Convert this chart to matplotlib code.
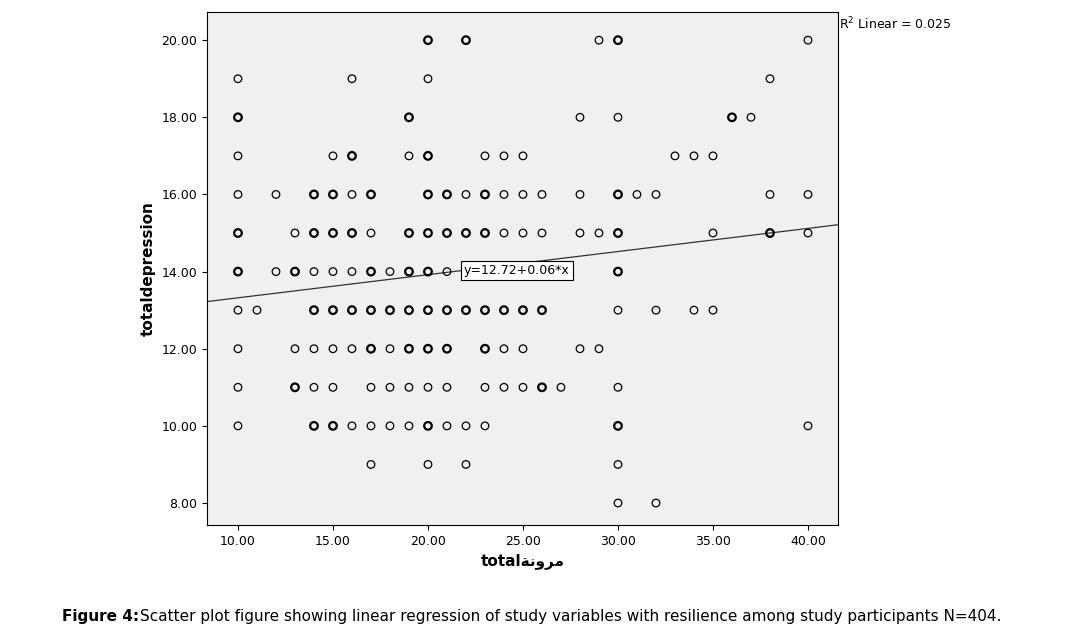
import matplotlib
matplotlib.use("Agg")
import matplotlib.pyplot as plt
import numpy as np

# resilience values per depression score; bold = several overlapping cases
rows = {
    20: [20, 22, 29, 30, 40],
    19: [10, 16, 20, 38],
    18: [10, 19, 28, 30, 36, 37],
    17: [10, 15, 16, 19, 20, 23, 24, 25, 33, 34, 35],
    16: [10, 12, 14, 15, 16, 17, 20, 21, 22, 23, 24, 25, 26, 28, 30, 31, 32, 38, 40],
    15: [10, 13, 14, 15, 16, 17, 19, 20, 21, 22, 23, 24, 25, 26, 28, 29, 30, 35, 38, 40],
    14: [10, 12, 13, 14, 15, 16, 17, 18, 19, 20, 21, 30],
    13: [10, 11, 14, 15, 16, 17, 18, 19, 20, 21, 22, 23, 24, 25, 26, 30, 32, 34, 35],
    12: [10, 13, 14, 15, 16, 17, 18, 19, 20, 21, 23, 24, 25, 28, 29],
    11: [10, 13, 14, 15, 17, 18, 19, 20, 21, 23, 24, 25, 26, 27, 30],
    10: [10, 14, 15, 16, 17, 18, 19, 20, 21, 22, 23, 30, 40],
    9: [17, 20, 22, 30],
    8: [30, 32],
}
bold = {
    20: [20, 22, 30],
    18: [10, 19, 36],
    17: [16, 20],
    16: [14, 15, 17, 20, 21, 23, 30],
    15: [10, 14, 15, 16, 19, 20, 21, 22, 23, 30, 38],
    14: [10, 13, 17, 19, 20, 30],
    13: [14, 15, 16, 17, 18, 19, 20, 21, 22, 23, 24, 25, 26],
    12: [17, 19, 20, 21, 23],
    11: [13, 26],
    10: [14, 15, 20, 30],
}
intercept, slope = 12.72, 0.06

fig = plt.figure(figsize=(10.7, 6.36), dpi=100)
ax = fig.add_axes([207/1070, 1-525/636, (838-207)/1070, (525-12)/636])
ax.set_facecolor("#f0f0f0")

for y, xs in rows.items():
    for x in xs:
        lw = 1.6 if x in bold.get(y, []) else 0.9
        ax.scatter(x, y, s=30, facecolors="none", edgecolors="black", linewidths=lw, zorder=3)

xlim = (8.37, 41.58)
xl = np.array(xlim)
ax.plot(xl, intercept + slope * xl, color="#333333", lw=0.9, zorder=2)
ax.text(21.9, intercept + slope * 21.9, "y=12.72+0.06*x", fontsize=9, ha="left", va="center",
        bbox=dict(facecolor="white", edgecolor="black", lw=0.8, pad=2), zorder=4)

ax.set_xlim(*xlim)
ax.set_ylim(7.43, 20.73)
ax.set_xticks([10, 15, 20, 25, 30, 35, 40])
ax.set_xticklabels([f"{v:.2f}" for v in [10, 15, 20, 25, 30, 35, 40]])
ax.set_yticks(range(8, 21, 2))
ax.set_yticklabels([f"{v:.2f}" for v in range(8, 21, 2)])
ax.tick_params(labelsize=9)
ax.set_ylabel("totaldepression", fontsize=11, fontweight="bold")
ax.set_xlabel("total\ufe94\ufee7\ufeed\ufeae\ufee3", fontsize=11, fontweight="bold")

fig.text(839/1070, 1-24/636, "R$^2$ Linear = 0.025", fontsize=9, ha="left", va="center")
fig.text(62/1070, 1-617/636, "Figure 4:", fontsize=11, fontweight="bold", ha="left", va="center")
fig.text(140/1070, 1-617/636,
         "Scatter plot figure showing linear regression of study variables with resilience among study participants N=404.",
         fontsize=11, ha="left", va="center")

fig.savefig("out.png", dpi=100)
